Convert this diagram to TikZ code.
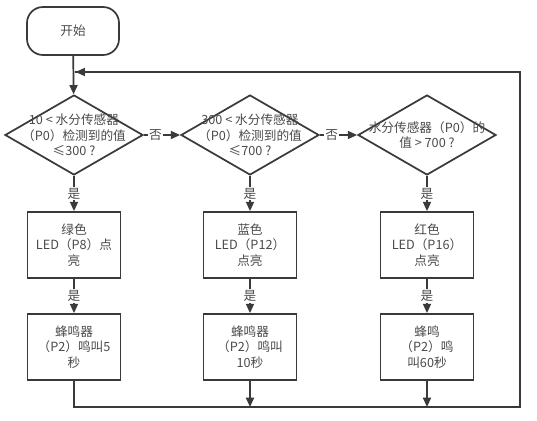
\documentclass[tikz,border=0pt]{standalone}
\usepackage{fontspec}
\setmainfont{Noto Sans CJK SC}
\usetikzlibrary{shapes.geometric,arrows.meta}
\definecolor{linegray}{HTML}{3A3A3A}
\definecolor{textgray}{HTML}{4A4A4A}
\begin{document}
\begin{tikzpicture}[
  x=0.75pt, y=-0.75pt,
  every node/.style={font=\fontsize{9.5}{11.8}\selectfont, text=textgray},
  startbox/.style={
    rectangle, rounded corners=12pt, draw=linegray, line width=1.3pt,
    minimum width=69pt, minimum height=36pt, align=center
  },
  decision/.style={
    diamond, draw=linegray, line width=1.3pt, inner sep=0pt,
    minimum width=103.5pt, minimum height=60pt
  },
  actionbox/.style={
    rectangle, draw=linegray, line width=1.3pt,
    minimum width=69.75pt, minimum height=49.5pt, align=center
  },
  tag/.style={fill=white, inner sep=1pt},
  arrow/.style={-{Triangle[length=7pt,width=6pt]}, line width=1.3pt, draw=linegray},
  link/.style={line width=1.3pt, draw=linegray}
]
\useasboundingbox (0,0) rectangle (537,421);

% Start
\node[startbox] (start) at (73,31) {开始};

% Decisions
\node[decision] (dec1) at (74,135) {};
\node[align=center] (dec1txt) at (dec1) {10 < 水分传感器\\（P0）检测到的值\\≤300 ?};
\node[decision] (dec2) at (250,135) {};
\node[align=center] (dec2txt) at (dec2) {300 < 水分传感器\\（P0）检测到的值\\≤700 ?};
\node[decision] (dec3) at (427,135) {};
\node[align=center] (dec3txt) at (dec3) {水分传感器（P0）的\\值 > 700 ?};

% LED boxes
\node[actionbox] (led1) at (74,245) {绿色\\LED（P8）点\\亮};
\node[actionbox] (led2) at (250,245) {蓝色\\LED（P12）\\点亮};
\node[actionbox] (led3) at (427,245) {红色\\LED（P16）\\点亮};

% Buzzer boxes
\node[actionbox] (buz1) at (74,347) {蜂鸣器\\（P2）鸣叫5\\秒};
\node[actionbox] (buz2) at (250,347) {蜂鸣器\\（P2）鸣叫\\10秒};
\node[actionbox] (buz3) at (427,347) {蜂鸣\\（P2）鸣\\叫60秒};

% Loop corners
\coordinate (loopin) at (74,72);
\coordinate (bot1) at (74,407);
\coordinate (bot2) at (250,407);
\coordinate (bot3) at (427,407);
\coordinate (botright) at (520,407);
\coordinate (topright) at (520,72);

% Arrows
\draw[arrow] (start) -- (dec1);
\draw[arrow] (dec1) -- (dec2) node[tag, pos=0.32] {否};
\draw[arrow] (dec2) -- (dec3) node[tag, pos=0.32] {否};
\draw[arrow] (dec1) -- (led1) node[tag, midway] {是};
\draw[arrow] (dec2) -- (led2) node[tag, midway] {是};
\draw[arrow] (dec3) -- (led3) node[tag, midway] {是};
\draw[arrow] (led1) -- (buz1) node[tag, midway] {是};
\draw[arrow] (led2) -- (buz2) node[tag, midway] {是};
\draw[arrow] (led3) -- (buz3) node[tag, midway] {是};
\draw[arrow] (buz2) -- (bot2);
\draw[arrow] (buz3) -- (bot3);
\draw[link] (buz1) -- (bot1) -- (botright) -- (topright) -- ([xshift=0.6pt]loopin);
\draw[arrow] (topright) -- ([xshift=1.2pt]loopin);
\end{tikzpicture}
\end{document}
